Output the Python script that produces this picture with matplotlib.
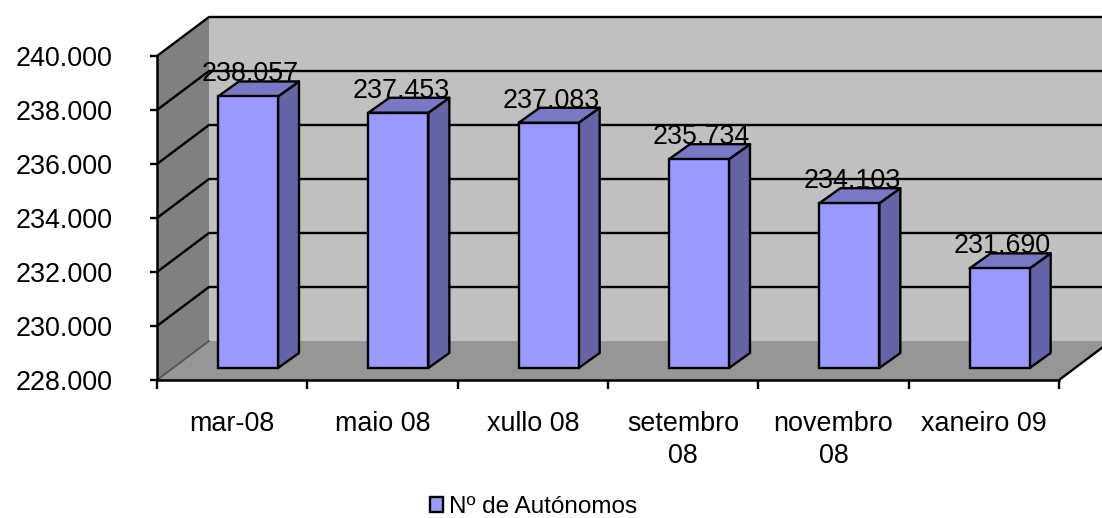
import matplotlib
matplotlib.use('Agg')
import matplotlib.pyplot as plt
from matplotlib.patches import Polygon

categories = ['mar-08', 'maio 08', 'xullo 08', 'setembro\n08', 'novembro\n08', 'xaneiro 09']
autonomos = [238057, 237453, 237083, 235734, 234103, 231690]
value_labels = ['238.057', '237.453', '237.083', '235.734', '234.103', '231.690']
yticks = [228000, 230000, 232000, 234000, 236000, 238000, 240000]
ytick_labels = ['228.000', '230.000', '232.000', '234.000', '236.000', '238.000', '240.000']
legend_label = 'Nº de Autónomos'

W, H = 1102, 518
plt.rcParams['font.family'] = ['Liberation Sans', 'DejaVu Sans']

fig = plt.figure(figsize=(W / 100, H / 100), dpi=100)
# front plane of the 3d box, in pixels
left, right, top, bottom = 157, 1059, 56, 380
ax = fig.add_axes([left / W, 1 - bottom / H, (right - left) / W, (bottom - top) / H])
ax.set_xlim(0, 6)
ax.set_ylim(228000, 240000)

# pixel sizes expressed in data units
px = 6 / (right - left)
py = 12000 / (bottom - top)
ymin, ymax = 228000, 240000
xmax = 6
depth_x, depth_y = 52 * px, 39 * py


def poly(pts, fc, ec='none', lw=0, z=1):
    ax.add_patch(Polygon(pts, closed=True, fc=fc, ec=ec, lw=lw, zorder=z, clip_on=False, joinstyle='round'))


# back wall, side wall, floor
poly([(depth_x, ymin + depth_y), (xmax + depth_x, ymin + depth_y),
      (xmax + depth_x, ymax + depth_y), (depth_x, ymax + depth_y)], '#c0c0c0')
poly([(0, ymin), (depth_x, ymin + depth_y), (depth_x, ymax + depth_y), (0, ymax)], '#808080')
poly([(0, ymin), (xmax, ymin), (xmax + depth_x, ymin + depth_y), (depth_x, ymin + depth_y)], '#969696')

# gridlines run along the side wall then the back wall
for v in yticks[1:]:
    ax.plot([0, depth_x, xmax + depth_x], [v, v + depth_y, v + depth_y],
            color='black', lw=1.7, zorder=2, clip_on=False)
ax.plot([0, depth_x], [ymin, ymin + depth_y], color='#505050', lw=1.2, zorder=2, clip_on=False)
ax.plot([xmax, xmax + depth_x], [ymin, ymin + depth_y], color='black', lw=1.7, zorder=2, clip_on=False)

# bars
bar_w = 60 * px
lift = 12 * py
off_x, off_y = 21 * px, 15 * py
for i, val in enumerate(autonomos):
    x0 = i + 61 * px
    x1 = x0 + bar_w
    y0 = ymin + lift
    y1 = val + lift
    poly([(x1, y0), (x1 + off_x, y0 + off_y), (x1 + off_x, y1 + off_y), (x1, y1)],
         '#6464a6', 'black', 1.7, 4)
    poly([(x0, y1), (x1, y1), (x1 + off_x, y1 + off_y), (x0 + off_x, y1 + off_y)],
         '#7878c4', 'black', 1.7, 4)
    ax.bar(x0, val - ymin, width=bar_w, bottom=y0, align='edge', color='#9999ff',
           edgecolor='black', linewidth=1.7, zorder=5, clip_on=False,
           label=legend_label if i == 0 else None)
    ax.text((x0 + x1) / 2 + 2.5 * px, y1 + off_y, value_labels[i], ha='center', va='baseline',
            fontsize=19.4, color='black', zorder=6)

for side in ['top', 'right']:
    ax.spines[side].set_visible(False)
for side in ['left', 'bottom']:
    ax.spines[side].set_linewidth(1.8)
    ax.spines[side].set_zorder(3)

ax.set_yticks(yticks)
ax.set_yticklabels(ytick_labels, fontsize=19.4)
ax.tick_params(axis='y', length=5, width=1.7, pad=27)

ax.set_xticks(range(7))
ax.set_xticklabels([])
ax.set_xticks([i + 0.5 for i in range(6)], minor=True)
ax.set_xticklabels(categories, minor=True, fontsize=19.4, linespacing=1.32)
ax.tick_params(axis='x', which='major', length=6.5, width=1.7)
ax.tick_params(axis='x', which='minor', length=0, pad=22)
ax.patch.set_visible(False)

leg = ax.legend(loc='lower left', bbox_to_anchor=(430 / W, 1 - 518 / H), bbox_transform=fig.transFigure,
                frameon=False, fontsize=17.5, borderpad=0, borderaxespad=0,
                handlelength=0.55, handleheight=0.55, handletextpad=0.25)
handle = leg.get_patches()[0]
handle.set_linewidth(1.7)

fig.savefig('out.png', dpi=100, facecolor='white')
